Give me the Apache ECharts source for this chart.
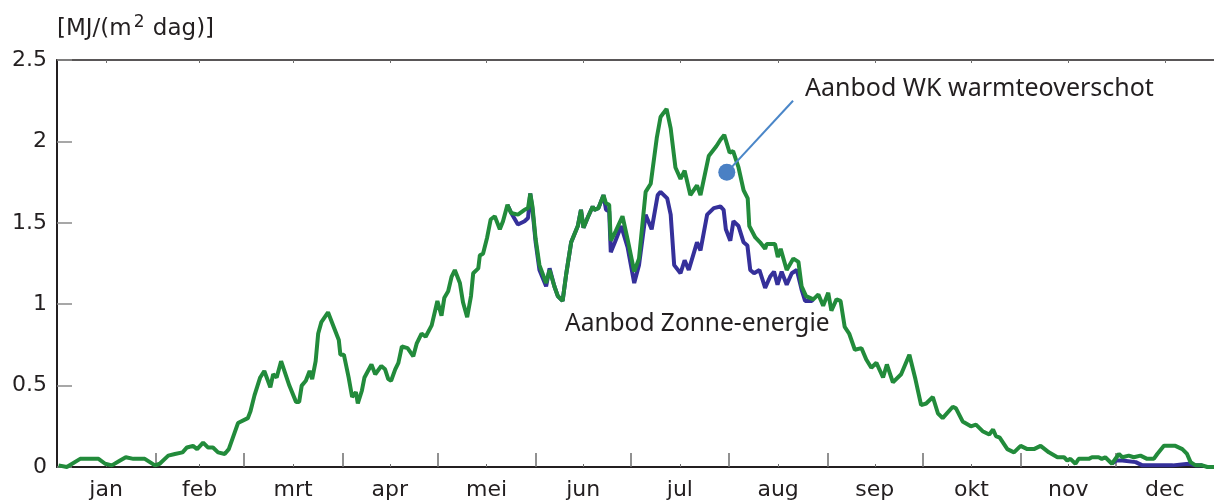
<!DOCTYPE html>
<html>
<head>
<meta charset="utf-8">
<title>Aanbod</title>
<script src="https://cdn.jsdelivr.net/npm/echarts@6.0.0/dist/echarts.min.js"></script>
<style>
  html, body { margin: 0; padding: 0; background: #fff; }
  #chart { width: 1214px; height: 504px; }
</style>
</head>
<body>
<div id="chart"></div>
<script>
// maanden (dag van het jaar waarop de maand begint)
var maandStart = [0, 31, 59, 90, 120, 151, 181, 212, 243, 273, 304, 334, 365];
var maandNamen = ["jan", "feb", "mrt", "apr", "mei", "jun", "jul", "aug", "sep", "okt", "nov", "dec"];

// Aanbod WK warmteoverschot (groen)
var dagenWK = [0.5,3.1,7.3,13.1,15.2,17.3,19.9,21.7,24.1,27.7,
  30.9,32.4,35.1,37.2,39.6,41.0,42.9,44.2,46.1,47.6,
  49.2,50.8,52.9,54.2,57.1,60.2,61.0,62.3,64.1,65.4,
  67.3,68.2,69.3,70.7,73.3,75.4,76.4,77.2,78.5,79.7,
  80.5,81.6,82.4,83.4,85.5,87.3,88.9,89.4,90.5,92.0,
  93.1,94.3,94.9,96.2,97.0,99.2,100.4,102.3,103.5,104.5,
  105.4,106.7,107.7,108.8,110.6,112.4,113.5,115.0,116.3,118.2,
  120.0,121.3,122.2,123.4,124.5,125.5,127.1,128.1,129.4,130.6,
  131.3,132.9,133.4,134.4,135.7,136.8,138.1,139.7,140.7,142.1,
  143.3,145.4,147.5,148.6,149.3,150.0,151.0,152.2,154.3,155.4,
  156.9,158.0,159.5,160.6,162.2,164.3,165.3,166.1,167.6,169.0,
  169.5,170.8,172.4,173.2,174.2,174.7,176.3,178.4,180.0,182.1,
  183.6,185.7,187.3,189.2,190.4,192.3,193.6,195.1,196.7,198.0,
  199.8,201.9,203.0,205.6,208.0,209.3,210.5,212.2,213.3,215.0,
  216.6,217.9,218.4,220.3,221.8,223.4,223.9,226.5,227.4,228.3,
  230.2,232.3,233.9,234.9,236.3,238.6,240.2,241.7,243.3,244.3,
  245.9,247.2,248.5,249.9,251.7,253.8,255.3,256.9,258.5,260.6,
  261.8,263.7,266.3,268.9,270.8,272.6,274.2,276.3,277.9,279.4,
  282.6,283.6,285.7,288.3,289.9,292.0,294.1,295.3,296.2,297.4,
  299.8,301.9,304.0,306.1,308.2,310.3,312.9,315.6,317.7,318.7,
  319.7,321.3,322.3,325.5,326.5,328.6,329.6,330.7,332.8,335.0,
  336.1,338.1,339.7,341.8,343.9,346.0,347.1,349.2,352.8,355.0,
  356.5,357.6,359.2,361.3,362.9,365];
var aanbodWK = [0.01,0.00,0.05,0.05,0.02,0.01,0.04,0.06,0.05,0.05,
  0.01,0.02,0.07,0.08,0.09,0.12,0.13,0.11,0.15,0.12,
  0.12,0.09,0.08,0.11,0.27,0.30,0.34,0.44,0.55,0.59,
  0.49,0.57,0.55,0.65,0.50,0.40,0.40,0.50,0.53,0.59,
  0.54,0.65,0.82,0.89,0.95,0.86,0.78,0.69,0.69,0.55,
  0.43,0.46,0.39,0.47,0.55,0.63,0.57,0.62,0.60,0.54,
  0.53,0.60,0.64,0.74,0.73,0.68,0.76,0.82,0.80,0.87,
  1.02,0.93,1.04,1.08,1.17,1.21,1.13,1.01,0.92,1.05,
  1.19,1.22,1.30,1.31,1.41,1.52,1.54,1.46,1.51,1.61,
  1.56,1.55,1.58,1.59,1.68,1.60,1.40,1.24,1.13,1.21,
  1.11,1.05,1.02,1.18,1.38,1.48,1.58,1.47,1.54,1.60,
  1.58,1.59,1.67,1.62,1.61,1.39,1.45,1.54,1.40,1.20,
  1.28,1.69,1.74,2.02,2.15,2.20,2.08,1.84,1.77,1.82,
  1.67,1.73,1.67,1.91,1.97,2.01,2.04,1.93,1.94,1.84,
  1.70,1.65,1.48,1.41,1.38,1.34,1.37,1.37,1.29,1.34,
  1.21,1.28,1.26,1.11,1.05,1.03,1.06,0.99,1.07,0.96,
  1.03,1.02,0.86,0.82,0.72,0.73,0.66,0.61,0.64,0.55,
  0.63,0.52,0.57,0.69,0.54,0.38,0.39,0.43,0.33,0.30,
  0.37,0.36,0.28,0.25,0.26,0.22,0.20,0.23,0.19,0.18,
  0.11,0.09,0.13,0.11,0.11,0.13,0.09,0.06,0.06,0.04,
  0.05,0.02,0.05,0.05,0.06,0.06,0.05,0.06,0.02,0.08,
  0.06,0.07,0.06,0.07,0.05,0.05,0.08,0.13,0.13,0.11,
  0.08,0.03,0.01,0.01,0.00,0.00];

// Aanbod Zonne-energie (blauw), alleen waar het afwijkt van groen; null = onderbreking
var dagenZon = [142.1,143.3,145.4,147.5,148.6,149.3,150.0,151.0,152.2,154.3,
  155.4,156.9,158.0,159.5,160.6,162.2,164.3,165.3,166.1,167.6,
  169.0,169.5,170.8,172.4,173.2,174.2,174.7,176.0,178.0,180.0,
  182.1,183.6,185.7,187.6,189.5,190.4,192.5,193.6,194.7,196.7,
  198.0,199.3,201.9,203.0,205.1,207.2,209.3,210.3,211.0,212.4,
  213.4,215.0,216.6,217.8,218.7,219.9,221.6,223.4,225.0,226.2,
  227.3,228.6,230.2,231.8,233.4,234.9,236.0,238.1,238.6,
  290,
  332.8,334.2,336.1,340.3,342.4,352.0,357.0,359.2,361.3];
var aanbodZon = [1.61,1.56,1.49,1.51,1.53,1.68,1.58,1.38,1.21,1.11,
  1.22,1.11,1.05,1.02,1.18,1.38,1.48,1.58,1.47,1.54,
  1.60,1.58,1.59,1.67,1.58,1.57,1.32,1.38,1.48,1.35,
  1.13,1.24,1.55,1.46,1.67,1.69,1.65,1.55,1.24,1.19,
  1.27,1.21,1.38,1.33,1.55,1.59,1.60,1.58,1.46,1.39,
  1.51,1.48,1.38,1.36,1.21,1.19,1.21,1.10,1.17,1.20,
  1.12,1.20,1.12,1.19,1.21,1.09,1.02,1.02,1.03,
  null,
  0.02,0.04,0.04,0.03,0.01,0.01,0.02,0.01,0.01];

// aanwijzer bij het label van WK
var wijzerPunt = [211.3, 1.81];
var wijzerEind = [232.2, 2.25];

var grenzen = maandStart.slice(1, -1);
var midden = maandNamen.map(function (n, i) {
  return (maandStart[i] + maandStart[i + 1]) / 2;
});

function paren(dagen, waarden) {
  return dagen.map(function (d, i) {
    return waarden[i] === null ? [d, "-"] : [d, waarden[i]];
  });
}

var tekstKleur = "#231f20";
var font = "DejaVu Sans";

var myChart = echarts.init(document.getElementById("chart"));
var option = {
  backgroundColor: "#fff",
  animation: false,
  grid: { left: 57, right: -5, top: 60, bottom: 37, containLabel: false },
  xAxis: [
    {
      type: "value",
      min: 0,
      max: 365,
      position: "bottom",
      axisLine: { show: true, lineStyle: { color: tekstKleur, width: 2 } },
      axisTick: {
        show: true, inside: true, length: 14, customValues: grenzen,
        lineStyle: { color: "#6d6d6d", width: 1.5 }
      },
      axisLabel: {
        customValues: midden,
        formatter: function (v) { return maandNamen[midden.indexOf(v)]; },
        margin: 12, fontSize: 22, color: tekstKleur, fontFamily: font
      },
      splitLine: { show: false }
    },
    {
      // kleine streepjes midden in de maand
      type: "value", min: 0, max: 365, position: "bottom",
      axisLine: { show: false },
      axisTick: { show: true, inside: true, length: 3, customValues: midden, lineStyle: { color: "#6d6d6d" } },
      axisLabel: { show: false },
      splitLine: { show: false }
    },
    {
      type: "value", min: 0, max: 365, position: "top",
      axisLine: { show: true, lineStyle: { color: tekstKleur, width: 1.5 } },
      axisTick: { show: true, inside: true, length: 3, customValues: midden, lineStyle: { color: "#6d6d6d" } },
      axisLabel: { show: false },
      splitLine: { show: false }
    }
  ],
  yAxis: {
    type: "value",
    min: 0,
    max: 2.5,
    interval: 0.5,
    axisLine: { show: true, lineStyle: { color: tekstKleur, width: 2 } },
    axisTick: { show: true, inside: true, length: 15, lineStyle: { color: "#8a8a8a", width: 1.5 } },
    axisLabel: { fontSize: 22, color: tekstKleur, margin: 10, fontFamily: font },
    splitLine: { show: false }
  },
  graphic: [
    {
      type: "text", left: 57, top: 14,
      style: {
        text: "[MJ/(m{sup|2} dag)]",
        font: "23px DejaVu Sans",
        fill: tekstKleur,
        rich: { sup: { fontSize: 17, fontFamily: font, padding: [0, 1, 13, 2], fill: tekstKleur } }
      }
    },
    {
      type: "text", x: 805, y: 89,
      style: { text: "Aanbod WK warmteoverschot", font: "25px Noto Sans", fill: tekstKleur, align: "left", verticalAlign: "middle" }
    },
    {
      type: "text", x: 565, y: 324,
      style: { text: "Aanbod Zonne-energie", font: "24.5px Noto Sans", fill: tekstKleur, align: "left", verticalAlign: "middle" }
    }
  ],
  series: [
    {
      name: "Aanbod Zonne-energie",
      type: "line",
      data: paren(dagenZon, aanbodZon),
      symbol: "none",
      connectNulls: false,
      lineStyle: { color: "#35309a", width: 4 },
      z: 2
    },
    {
      name: "Aanbod WK warmteoverschot",
      type: "line",
      data: paren(dagenWK, aanbodWK),
      symbol: "none",
      lineStyle: { color: "#228b3b", width: 4 },
      z: 3,
      markLine: {
        silent: true,
        symbol: "none",
        label: { show: false },
        lineStyle: { color: "#4a86c8", width: 2, type: "solid" },
        data: [[{ coord: wijzerPunt }, { coord: wijzerEind }]]
      },
      markPoint: {
        silent: true,
        symbol: "circle",
        symbolSize: 17,
        label: { show: false },
        itemStyle: { color: "#4a80c4" },
        data: [{ coord: wijzerPunt }]
      }
    }
  ]
};
myChart.setOption(option);
</script>
</body>
</html>
